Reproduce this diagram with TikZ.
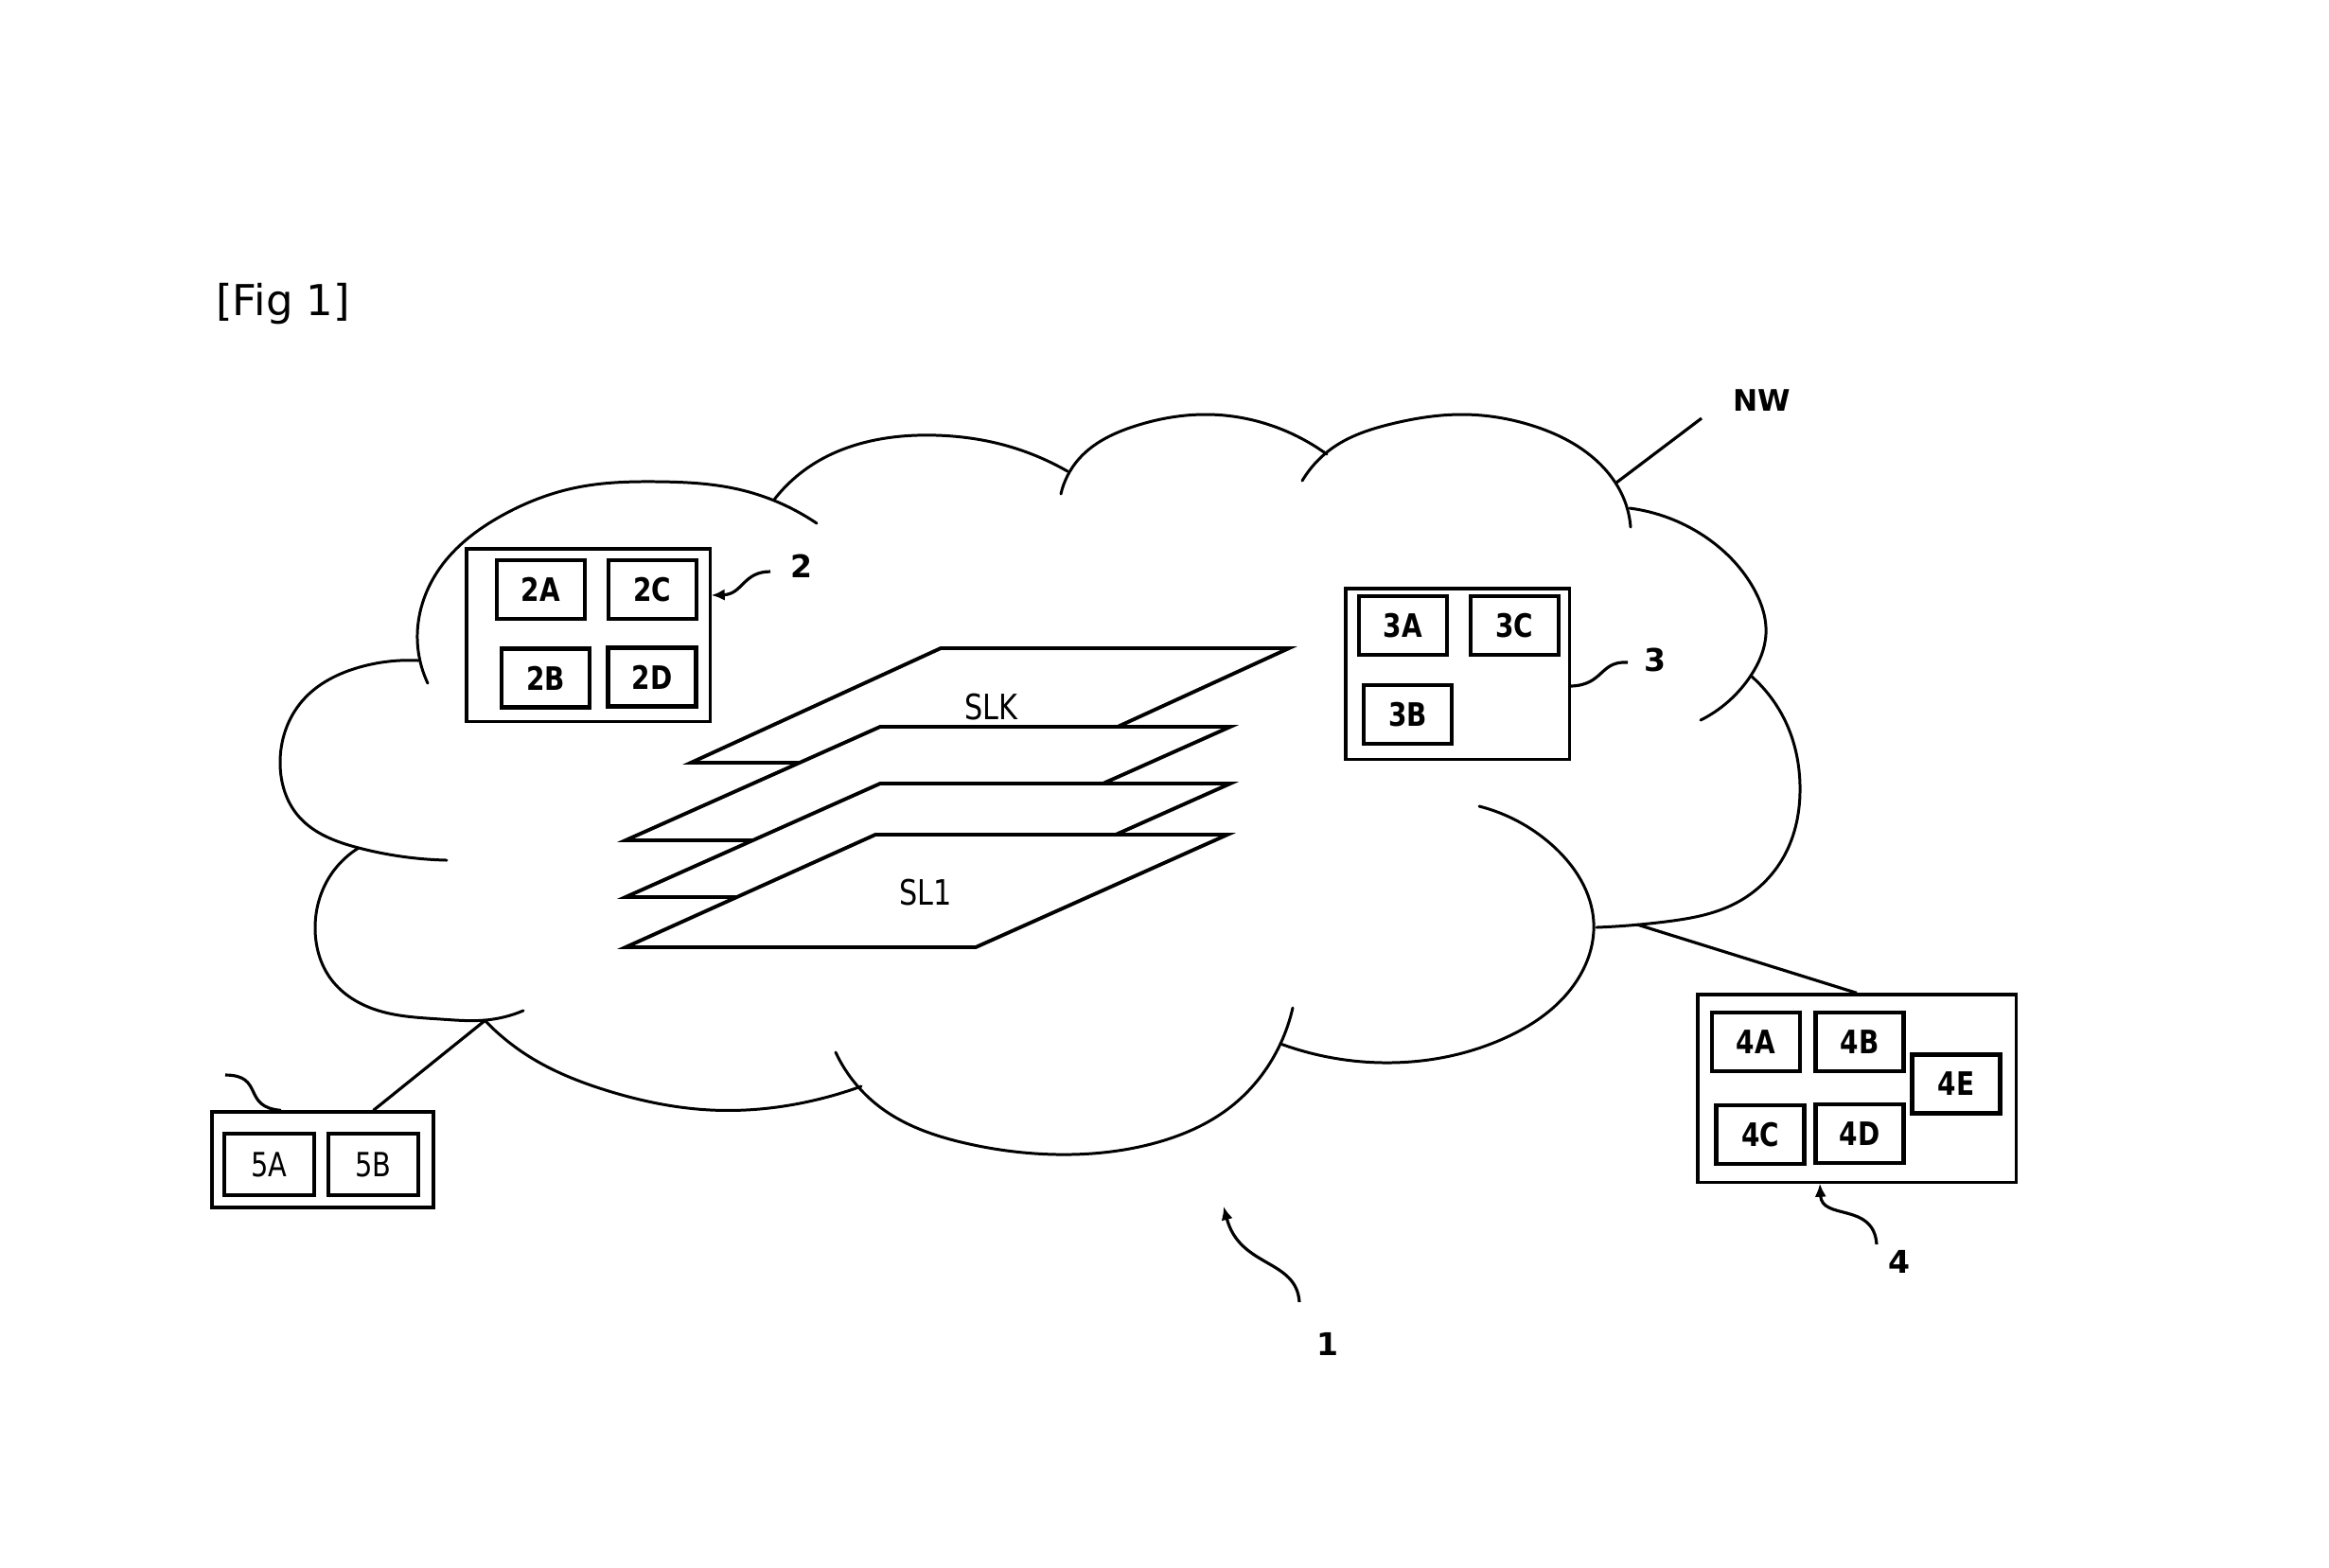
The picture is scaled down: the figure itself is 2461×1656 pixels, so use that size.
\documentclass[tikz,border=0pt]{standalone}
\usepackage{fontspec}
\setmainfont{DejaVu Sans}
\newfontfamily\narrowfont[FakeStretch=0.82]{DejaVu Sans}
\usetikzlibrary{arrows.meta,calc,hobby}

\begin{document}
\begin{tikzpicture}[x=0.01cm,y=-0.01cm,
  cloudline/.style={line width=0.85pt,line cap=round,use Hobby shortcut},
  outer/.style={draw,line width=0.9pt,inner sep=0pt},
  part/.style={draw,line width=1.2pt,minimum width=0.93cm,minimum height=0.62cm,inner sep=0pt,font=\narrowfont\bfseries\fontsize{9.7}{11}\selectfont},
  partlt/.style={part,minimum width=0.95cm,minimum height=0.65cm,font=\narrowfont\fontsize{10}{12}\selectfont},
  sheet/.style={draw,line width=1.1pt,fill=white,line join=miter},
  refno/.style={font=\bfseries\fontsize{9.4}{11}\selectfont},
  lead/.style={line width=0.9pt},
  leadarrow/.style={lead,-{Latex[length=4pt,width=3.5pt]}}]
\useasboundingbox (0,0) rectangle (2461,1656);
\node[anchor=base west,font=\fontsize{12.8}{15}\selectfont] (fig) at (216,333) {[Fig 1]};

\draw[cloudline] (452,722) .. (441,670) .. (465,600) .. (530,545) .. (610,515) .. (695,509) .. (780,517) .. (863,553);
\draw[cloudline] (818,528) .. (860,490) .. (920,466) .. (990,460) .. (1060,470) .. (1128,498);
\draw[cloudline] (1121,522) .. (1140,485) .. (1200,450) .. (1277,438) .. (1350,452) .. (1402,480);
\draw[cloudline] (1376,508) .. (1410,472) .. (1470,448) .. (1545,438) .. (1620,450) .. (1685,485) .. (1715,525) .. (1723,557);
\draw[cloudline] (1722,537) .. (1800,566) .. (1852,620) .. (1866,670) .. (1850,714) .. (1797,761);
\draw[cloudline] (1850,714) .. (1890,770) .. (1902,830) .. (1885,905) .. (1833,955) .. (1760,974) .. (1687,980);
\draw[cloudline] (1563,852) .. (1640,893) .. (1684,975) .. (1660,1045) .. (1590,1097) .. (1468,1123) .. (1353,1103);
\draw[cloudline] (883,1112) .. (930,1170) .. (1020,1208) .. (1118,1220) .. (1220,1208) .. (1300,1170) .. (1353,1103) .. (1366,1065);
\draw[cloudline] (512,1078) .. (560,1117) .. (640,1152) .. (751,1173) .. (850,1165) .. (910,1148);
\draw[cloudline] (379,896) .. (345,932) .. (333,980) .. (350,1035) .. (400,1068) .. (466,1077) .. (513,1078) .. (553,1068);
\draw[cloudline] (442,698) .. (380,705) .. (320,740) .. (296,807) .. (315,862) .. (379,896) .. (472,909);

\coordinate (nwfoot) at (1708,510); \coordinate (nwtip) at (1798,442);
\draw[lead] (nwfoot) -- (nwtip);
\node[font=\bfseries\fontsize{8.9}{11}\selectfont] (nw) at (1862,423) {NW};

\draw[sheet] (994,685) -- (1362,685) -- (1098,806) -- (730,806) -- cycle;
\draw[sheet] (930,768) -- (1300,768) -- (1031,888) -- (661,888) -- cycle;
\draw[sheet] (930,828) -- (1300,828) -- (1031,948) -- (661,948) -- cycle;
\draw[sheet] (925,882) -- (1297,882) -- (1031,1001) -- (661,1001) -- cycle;
\node[font=\narrowfont\fontsize{10.5}{12}\selectfont] (slk) at (1047,747) {SLK};
\node[font=\narrowfont\fontsize{10.5}{12}\selectfont] (sl1) at (978,943) {SL1};

\node[outer,minimum width=2.57cm,minimum height=1.82cm] (dev2) at (621.5,671) {};
\node[part] (p2a) at (571.5,623) {2A}; \node[part] (p2c) at (689.5,623) {2C};
\node[part] (p2b) at (576.5,716.5) {2B}; \node[part] (p2d) at (689,715.5) {2D};
\node[refno] (r2) at (847,598) {2}; \coordinate (w2) at (814,604);
\draw[leadarrow] (w2) .. controls (785,604) and (785,628) .. (dev2.east |- 0,629);

\node[outer,minimum width=2.36cm,minimum height=1.80cm] (dev3) at (1540,712) {};
\node[part] (p3a) at (1482.5,661) {3A}; \node[part] (p3c) at (1600.5,661) {3C};
\node[part] (p3b) at (1487.5,755) {3B};
\node[refno] (r3) at (1749,697) {3}; \coordinate (w3) at (1720,700);
\draw[lead] (w3) .. controls (1690,698) and (1695,724) .. (dev3.east |- 0,725);

\node[outer,minimum width=3.36cm,minimum height=1.98cm] (dev4) at (1962,1150) {};
\node[part] (p4a) at (1855.5,1101) {4A}; \node[part] (p4b) at (1965,1101) {4B};
\node[part] (p4e) at (2067,1145.5) {4E};
\node[part] (p4c) at (1860,1199) {4C}; \node[part] (p4d) at (1965,1198) {4D};
\coordinate (c4) at (1730,977);
\draw[lead] (c4) -- (dev4.north);
\node[refno] (r4) at (2007,1333) {4}; \coordinate (w4) at (1983,1315);
\draw[leadarrow] (w4) .. controls (1980,1270) and (1925,1290) .. (dev4.south -| 1923,0);

\node[outer,minimum width=2.34cm,minimum height=1.01cm] (dev5) at (341,1225.5) {};
\node[partlt] (p5a) at (284.5,1230.5) {5A}; \node[partlt] (p5b) at (394.5,1230.5) {5B};
\coordinate (c5) at (513,1078);
\draw[lead] (c5) -- (dev5.north -| p5b);
\coordinate (w5) at (238,1136);
\draw[lead] (w5) .. controls (280,1136) and (255,1170) .. (dev5.north -| 297,0);

\node[refno] (r1) at (1403,1420) {1}; \coordinate (w1) at (1373,1376); \coordinate (t1) at (1293,1275);
\draw[leadarrow] (w1) .. controls (1370,1330) and (1310,1340) .. (t1);
\end{tikzpicture}
\end{document}
